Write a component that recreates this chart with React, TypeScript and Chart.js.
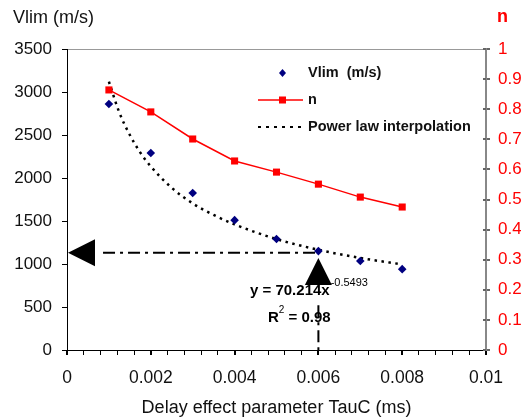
import React, { useEffect, useRef } from "react";
import { Chart, registerables } from "chart.js";

Chart.register(...registerables);

// ---- data ----
const tauC = [0.001, 0.002, 0.003, 0.004, 0.005, 0.006, 0.007, 0.008];
const vlim = [2860, 2290, 1825, 1510, 1290, 1150, 1035, 940];
const nValues = [0.864, 0.791, 0.701, 0.628, 0.591, 0.551, 0.508, 0.475];
const fitTauC = [0.001, 0.00125, 0.0015, 0.00175, 0.002, 0.0025, 0.003, 0.0035, 0.004, 0.005, 0.006, 0.007, 0.008];
const fitVlim = [3120, 2760, 2500, 2295, 2135, 1885, 1705, 1570, 1460, 1290, 1165, 1070, 995];
const xTickLabels = ["0", "0.002", "0.004", "0.006", "0.008", "0.01"];
const legendLabels = ["Vlim  (m/s)", "n", "Power law interpolation"];
const leftTitle = "Vlim (m/s)";
const rightTitle = "n";
const xTitle = "Delay effect parameter TauC (ms)";
const equationMain = "y = 70.214x";
const equationExp = "-0.5493";
const r2Parts = ["R", "2", " = 0.98"];

// annotation anchor values (data coordinates)
const guideVlim = 1130;
const guideTauC = 0.006;
const guideStartTauC = 0.00086;
const upArrowTipVlim = 1070;
const vGuideTopVlim = 520;

const FONT = '"Liberation Sans", Arial, Helvetica, sans-serif';

const overlayPlugin = {
  id: "overlay",
  afterDraw(chart: any) {
    const ctx = chart.ctx as CanvasRenderingContext2D;
    const xs = chart.scales.x;
    const ys = chart.scales.y;
    const y1s = chart.scales.y1;
    const area = chart.chartArea;
    ctx.save();

    // right axis inner tick parts
    ctx.strokeStyle = "#666";
    ctx.lineWidth = 2;
    y1s.ticks.forEach((t: any) => {
      const py = Math.round(y1s.getPixelForValue(t.value));
      ctx.beginPath();
      ctx.moveTo(area.right - 3, py);
      ctx.lineTo(area.right, py);
      ctx.stroke();
    });

    // axis titles
    ctx.textBaseline = "middle";
    ctx.textAlign = "left";
    ctx.fillStyle = "#111";
    ctx.font = `18px ${FONT}`;
    ctx.fillText(leftTitle, 13, 18);
    ctx.fillStyle = "#ff0000";
    ctx.font = `bold 18px ${FONT}`;
    ctx.fillText(rightTitle, 497, 17);
    ctx.fillStyle = "#111";
    ctx.font = `18px ${FONT}`;
    ctx.textAlign = "center";
    ctx.fillText(xTitle, (area.left + area.right) / 2, 408);

    // legend
    const lx0 = 258, lx1 = 303, ltx = 308;
    const rows = [73, 100, 127];
    ctx.textAlign = "left";
    // row 0: diamond
    ctx.fillStyle = "#000080";
    ctx.beginPath();
    const dcx = (lx0 + lx1) / 2 + 2, dcy = rows[0];
    ctx.moveTo(dcx, dcy - 4);
    ctx.lineTo(dcx + 3.5, dcy);
    ctx.lineTo(dcx, dcy + 4);
    ctx.lineTo(dcx - 3.5, dcy);
    ctx.closePath();
    ctx.fill();
    // row 1: red line + square
    ctx.strokeStyle = "#ff0000";
    ctx.lineWidth = 1.5;
    ctx.beginPath();
    ctx.moveTo(lx0, rows[1]);
    ctx.lineTo(lx1, rows[1]);
    ctx.stroke();
    ctx.fillStyle = "#ff0000";
    ctx.fillRect((lx0 + lx1) / 2 + 2 - 3.5, rows[1] - 3.5, 7, 7);
    // row 2: dotted
    ctx.strokeStyle = "#000";
    ctx.lineWidth = 2;
    ctx.setLineDash([3, 5]);
    ctx.beginPath();
    ctx.moveTo(lx0, rows[2]);
    ctx.lineTo(lx1, rows[2]);
    ctx.stroke();
    ctx.setLineDash([]);
    ctx.font = `bold 14.5px ${FONT}`;
    ctx.fillStyle = "#111";
    legendLabels.forEach((lab, i) => ctx.fillText(lab, ltx, rows[i]));

    // equation text
    ctx.fillStyle = "#000";
    ctx.font = `bold 15px ${FONT}`;
    let ex = 250;
    ctx.fillText(equationMain, ex, 291);
    ex += ctx.measureText(equationMain).width + 1;
    ctx.font = `11px ${FONT}`;
    ctx.fillText(equationExp, ex, 283);
    let rx = 268;
    ctx.font = `bold 15px ${FONT}`;
    ctx.fillText(r2Parts[0], rx, 318);
    rx += ctx.measureText(r2Parts[0]).width;
    ctx.font = `10px ${FONT}`;
    ctx.fillText(r2Parts[1], rx, 310);
    rx += ctx.measureText(r2Parts[1]).width;
    ctx.font = `bold 15px ${FONT}`;
    ctx.fillText(r2Parts[2], rx, 318);

    // guides
    const gy = ys.getPixelForValue(guideVlim);
    const gx = xs.getPixelForValue(guideTauC);
    ctx.strokeStyle = "#000";
    ctx.lineWidth = 2;
    ctx.setLineDash([12, 5, 3, 5]);
    ctx.beginPath();
    ctx.moveTo(xs.getPixelForValue(guideStartTauC), gy);
    ctx.lineTo(gx, gy);
    ctx.stroke();
    ctx.beginPath();
    ctx.moveTo(gx, ys.getPixelForValue(vGuideTopVlim));
    ctx.lineTo(gx, ys.getPixelForValue(0));
    ctx.stroke();
    ctx.setLineDash([]);

    // arrows
    ctx.fillStyle = "#000";
    const tipX = xs.getPixelForValue(0) + 1;
    ctx.beginPath();
    ctx.moveTo(tipX, gy);
    ctx.lineTo(tipX + 27, gy - 13.5);
    ctx.lineTo(tipX + 27, gy + 13.5);
    ctx.closePath();
    ctx.fill();
    const tipY = ys.getPixelForValue(upArrowTipVlim);
    ctx.beginPath();
    ctx.moveTo(gx, tipY);
    ctx.lineTo(gx - 13.5, tipY + 27);
    ctx.lineTo(gx + 13.5, tipY + 27);
    ctx.closePath();
    ctx.fill();

    ctx.restore();
  },
};

export default function App() {
  const ref = useRef<HTMLCanvasElement | null>(null);

  useEffect(() => {
    document.body.style.margin = "0";
    const canvas = ref.current;
    if (!canvas) return;
    Chart.defaults.font.family = FONT;

    const chart = new Chart(canvas, {
      type: "line",
      data: {
        datasets: [
          {
            label: "Vlim",
            data: tauC.map((t, i) => ({ x: t, y: vlim[i] })),
            yAxisID: "y",
            showLine: false,
            pointStyle: "rectRot",
            pointRadius: 4.3,
            pointBackgroundColor: "#000080",
            pointBorderColor: "#000080",
            pointBorderWidth: 0,
            order: 1,
          },
          {
            label: "n",
            data: tauC.map((t, i) => ({ x: t, y: nValues[i] })),
            yAxisID: "y1",
            borderColor: "#ff0000",
            borderWidth: 1.5,
            pointStyle: "rect",
            pointRadius: 5,
            pointBackgroundColor: "#ff0000",
            pointBorderColor: "#ff0000",
            pointBorderWidth: 0,
            order: 2,
          },
          {
            label: "Power law interpolation",
            data: fitTauC.map((t, i) => ({ x: t, y: fitVlim[i] })),
            yAxisID: "y",
            borderColor: "#000",
            borderWidth: 2.5,
            borderDash: [2.5, 4.5],
            pointRadius: 0,
            cubicInterpolationMode: "monotone",
            fill: false,
            order: 3,
          },
        ],
      },
      options: {
        responsive: false,
        animation: false,
        devicePixelRatio: 1,
        layout: { padding: { top: 49, left: 0, right: 0, bottom: 0 } },
        plugins: { legend: { display: false }, tooltip: { enabled: false } },
        scales: {
          x: {
            type: "linear",
            min: 0,
            max: 0.01,
            afterFit: (s: any) => {
              s.height = 69;
            },
            ticks: {
              stepSize: 0.0004,
              autoSkip: false,
              maxRotation: 0,
              padding: 13,
              color: "#111",
              font: { size: 17.5 },
              callback: (v: any) => {
                const k = Number(v) / 0.002;
                if (Math.abs(k - Math.round(k)) < 1e-6) return xTickLabels[Math.round(k)] ?? "";
                return "";
              },
            },
            grid: {
              drawOnChartArea: false,
              drawTicks: true,
              tickLength: 5,
              color: "#000",
              lineWidth: (c: any) => {
                const k = c.tick ? c.tick.value / 0.002 : 0.5;
                return Math.abs(k - Math.round(k)) < 1e-6 ? 2 : 1;
              },
            },
            border: { display: true, color: "#000", width: 1 },
          },
          y: {
            position: "left",
            min: 0,
            max: 3500,
            afterFit: (s: any) => {
              s.width = 67;
            },
            ticks: {
              stepSize: 500,
              padding: 10,
              color: "#111",
              font: { size: 17 },
              callback: (v: any) => String(v),
            },
            grid: {
              drawOnChartArea: true,
              color: (c: any) => (c.tick && c.tick.value === 3500 ? "#999" : "rgba(0,0,0,0)"),
              tickColor: "#000",
              tickLength: 5,
            },
            border: { display: true, color: "#000", width: 1 },
          },
          y1: {
            position: "right",
            min: 0,
            max: 1,
            afterFit: (s: any) => {
              s.width = 35;
            },
            ticks: {
              stepSize: 0.1,
              padding: 8,
              color: "#ff0000",
              font: { size: 17 },
              callback: (v: any) => String(Math.round(Number(v) * 10) / 10),
            },
            grid: {
              drawOnChartArea: false,
              tickLength: 4,
              color: "#666",
              lineWidth: 2,
            },
            border: { display: true, color: "#888", width: 2 },
          },
        },
      },
      plugins: [overlayPlugin],
    } as any);

    return () => chart.destroy();
  }, []);

  return (
    <canvas
      ref={ref}
      width={521}
      height={419}
      style={{ display: "block", width: 521, height: 419 }}
    />
  );
}
